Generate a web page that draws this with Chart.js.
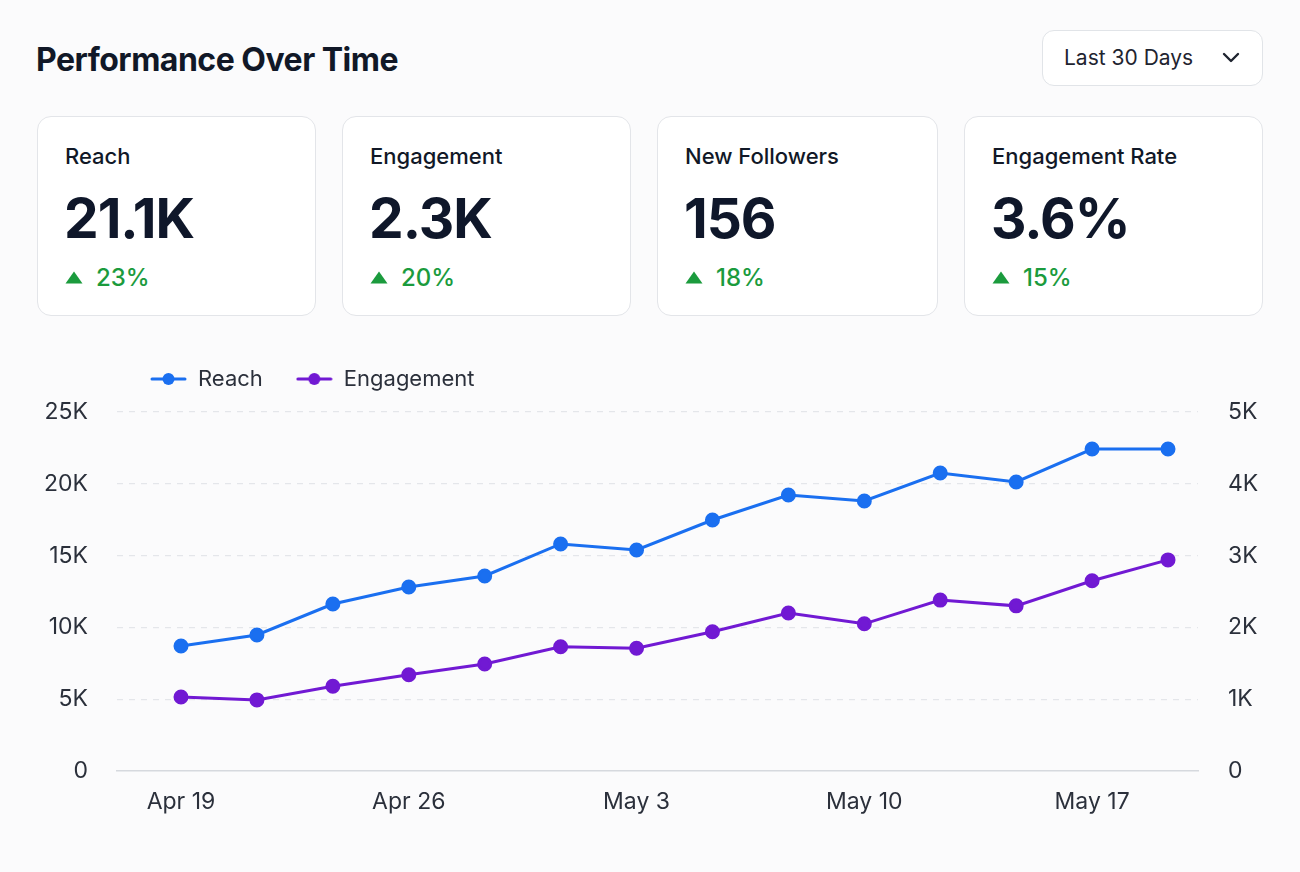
<!DOCTYPE html>
<html>
<head>
<meta charset="utf-8">
<script src="https://cdn.jsdelivr.net/npm/chart.js@4.4.1/dist/chart.umd.min.js"></script>
<style>
  html, body { margin: 0; padding: 0; }
  body { width: 1300px; height: 872px; background: #fbfbfc; font-family: Inter, "Noto Sans", sans-serif; color: #111827; position: relative; overflow: hidden; }
  .title { position: absolute; left: 36px; top: 39px; font-size: 32px; font-weight: 700; letter-spacing: -0.5px; color: #111827; line-height: 42px; }
  .dropdown { position: absolute; left: 1042px; top: 30px; width: 219px; height: 54px; border: 1.5px solid #e1e4e8; border-radius: 12px; background: #fff; box-sizing: content-box; }
  .dropdown span { position: absolute; left: 21px; top: 13px; font-size: 21px; line-height: 28px; color: #1f2430; }
  .dropdown svg { position: absolute; left: 179px; top: 21px; }
  .card { position: absolute; top: 116px; height: 198px; border: 1.5px solid #e3e5e9; border-radius: 14px; background: #fff; }
  .card .lbl { position: absolute; left: 27px; top: 24px; font-size: 22px; font-weight: 500; line-height: 30px; color: #111827; }
  .card .val { position: absolute; left: 26px; top: 68px; font-size: 55px; font-weight: 700; line-height: 66px; letter-spacing: -1px; color: #0f172a; }
  .card .chg { position: absolute; left: 27px; top: 145px; font-size: 24px; font-weight: 500; line-height: 32px; color: #1b9b3d; display: flex; align-items: center; }
  .card .chg svg { margin-right: 13px; margin-top: -2px; }
  #wrap { position: absolute; left: 0; top: 350px; width: 1300px; height: 480px; }
</style>
</head>
<body>
<div class="title">Performance Over Time</div>
<div class="dropdown"><span>Last 30 Days</span>
  <svg width="18" height="12" viewBox="0 0 18 12"><path d="M2 2 L9 9 L16 2" fill="none" stroke="#1f2430" stroke-width="2.4" stroke-linecap="round" stroke-linejoin="round"/></svg>
</div>
<div id="cards"></div>
<div id="wrap"><canvas id="c"></canvas></div>
<script>
// ---- data ----
const kpiLabels  = ['Reach', 'Engagement', 'New Followers', 'Engagement Rate'];
const kpiValues  = ['21.1K', '2.3K', '156', '3.6%'];
const kpiChanges = ['23%', '20%', '18%', '15%'];

const categories = ['Apr 19', '', '', 'Apr 26', '', '', 'May 3', '', '', 'May 10', '', '', 'May 17', ''];
const reach      = [8700, 9470, 11630, 12810, 13580, 15810, 15390, 17480, 19220, 18800, 20750, 20130, 22420, 22420];
const engagement = [1030, 990, 1180, 1340, 1490, 1730, 1710, 1940, 2200, 2050, 2380, 2300, 2650, 2940];
const leftTicks  = [0, 5000, 10000, 15000, 20000, 25000];
const rightTicks = [0, 1000, 2000, 3000, 4000, 5000];

// ---- cards ----
const cardBoxes = [[37, 277], [342, 287], [657, 279], [964, 297]];
const tri = '<svg width="18" height="13" viewBox="0 0 18 13"><path d="M9 0.5 L17.5 12.5 L0.5 12.5 Z" fill="#1b9b3d"/></svg>';
const cardsEl = document.getElementById('cards');
kpiLabels.forEach((l, i) => {
  const d = document.createElement('div');
  d.className = 'card';
  d.style.left = cardBoxes[i][0] + 'px';
  d.style.width = cardBoxes[i][1] + 'px';
  d.innerHTML = '<div class="lbl">' + l + '</div><div class="val">' + kpiValues[i] + '</div><div class="chg">' + tri + '<span>' + kpiChanges[i] + '</span></div>';
  cardsEl.appendChild(d);
});

// ---- chart ----
const BLUE = '#1a6ff0';
const PURPLE = '#7119d3';
function legendMarker(color) {
  const cv = document.createElement('canvas');
  cv.width = 37; cv.height = 14;
  const g = cv.getContext('2d');
  g.strokeStyle = color; g.lineWidth = 3; g.lineCap = 'round';
  g.beginPath(); g.moveTo(2, 7); g.lineTo(35, 7); g.stroke();
  g.fillStyle = color; g.beginPath(); g.arc(18.5, 7, 6, 0, Math.PI * 2); g.fill();
  return cv;
}
const markers = [legendMarker(BLUE), legendMarker(PURPLE)];

Chart.defaults.font.family = 'Inter, "Noto Sans", sans-serif';
Chart.defaults.color = '#2b303b';

const LEGEND_FONT = 22;
const LEGEND_PAD = 33;
const layoutFix = {
  id: 'layoutFix',
  beforeUpdate(chart) {
    const lg = chart.legend;
    if (lg && !lg._patched) {
      const fit = lg.fit;
      lg.fit = function () { fit.call(this); this.height = 62; };
      lg._patched = true;
    }
  },
  afterLayout(chart) {
    const lg = chart.legend;
    lg.left = 150 - LEGEND_PAD;
    lg.top = 29 - LEGEND_PAD - LEGEND_FONT / 2;
  }
};

const idx = categories.map((_, i) => i);
new Chart(document.getElementById('c'), {
  type: 'line',
  data: {
    datasets: [
      { label: 'Reach', data: idx.map(i => ({ x: i, y: reach[i] })), yAxisID: 'y',
        borderColor: BLUE, backgroundColor: BLUE, borderWidth: 3, pointRadius: 6, pointHoverRadius: 6, tension: 0 },
      { label: 'Engagement', data: idx.map(i => ({ x: i, y: engagement[i] })), yAxisID: 'y1',
        borderColor: PURPLE, backgroundColor: PURPLE, borderWidth: 3, pointRadius: 6, pointHoverRadius: 6, tension: 0 }
    ]
  },
  options: {
    responsive: true,
    maintainAspectRatio: false,
    animation: false,
    layout: { padding: 0 },
    plugins: {
      tooltip: { enabled: false },
      legend: {
        position: 'top', align: 'start',
        labels: {
          usePointStyle: true, pointStyleWidth: 37, padding: LEGEND_PAD,
          font: { size: LEGEND_FONT }, color: '#2b303b',
          generateLabels(chart) {
            return chart.data.datasets.map((ds, i) => ({
              text: ds.label, pointStyle: markers[i], fillStyle: ds.borderColor,
              strokeStyle: ds.borderColor, lineWidth: 0, hidden: false, datasetIndex: i, fontColor: '#2b303b'
            }));
          }
        }
      }
    },
    scales: {
      x: {
        type: 'linear', min: -0.843, max: 13.395,
        afterBuildTicks(s) { s.ticks = [0, 3, 6, 9, 12].map(v => ({ value: v })); },
        afterFit(s) { s.height = 59; },
        ticks: { callback: v => categories[v] || '', font: { size: 23 }, padding: 17, maxRotation: 0, color: '#2b303b' },
        grid: { display: false, drawTicks: false },
        border: { display: true, color: '#d6d9de', width: 1.5 }
      },
      y: {
        position: 'left', min: 0, max: 25000,
        afterBuildTicks(s) { s.ticks = leftTicks.map(v => ({ value: v })); },
        afterFit(s) { s.width = 117; },
        ticks: { callback: v => v === 0 ? '0' : (v / 1000) + 'K', font: { size: 23 }, padding: 29, color: '#2b303b' },
        grid: { drawTicks: false, color: c => c.tick && c.tick.value === 0 ? 'rgba(0,0,0,0)' : '#e4e6ea', lineWidth: 1.2 },
        border: { display: false, dash: [6, 6] }
      },
      y1: {
        position: 'right', min: 0, max: 5000,
        afterBuildTicks(s) { s.ticks = rightTicks.map(v => ({ value: v })); },
        afterFit(s) { s.width = 102; },
        ticks: { callback: v => v === 0 ? '0' : (v / 1000) + 'K', font: { size: 23 }, padding: 30, color: '#2b303b' },
        grid: { display: false, drawTicks: false },
        border: { display: false }
      }
    }
  },
  plugins: [layoutFix]
});
</script>
</body>
</html>
